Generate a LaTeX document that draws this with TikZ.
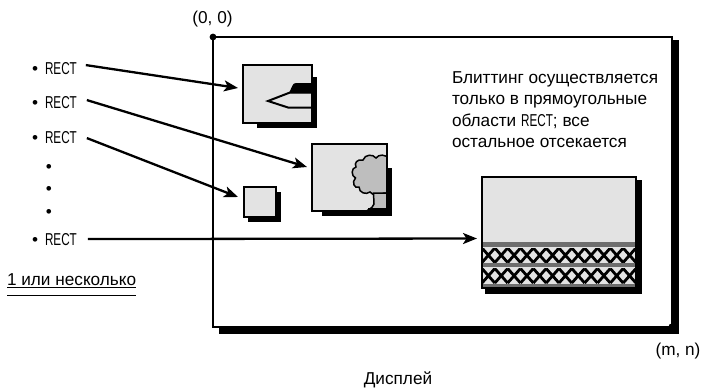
\documentclass[tikz,border=0pt]{standalone}
\usepackage{fontspec}
\setmainfont{Liberation Sans}
\newfontfamily\condfont[FakeStretch=0.68]{Liberation Sans}
\usetikzlibrary{arrows.meta,calc}

\definecolor{boxgray}{RGB}{227,227,227}
\definecolor{treegray}{RGB}{190,190,190}
\definecolor{bandgray}{RGB}{110,110,110}

\tikzset{
  lbl/.style={font=\fontsize{17.2}{21.2}\selectfont, inner sep=0pt, outer sep=0pt},
  rectlbl/.style={lbl, anchor=base west},
  frame/.style={draw, line width=2.4pt, fill=white, inner sep=0pt, outer sep=0pt},
  winfill/.style={fill=boxgray, inner sep=0pt, outer sep=0pt},
  winedge/.style={draw, line width=2.1pt},
  castshadow/.style={fill=black},
  ptr/.style={line width=2.3pt, -{Stealth[length=14pt,width=11pt,inset=3.5pt]}},
}

\begin{document}
\begin{tikzpicture}[x=1pt,y=-1pt]
\useasboundingbox (0,0) rectangle (704,391);

% display frame with its drop shadow
\fill[castshadow] (219,40) rectangle (679,334);
\node[frame, minimum width=459pt, minimum height=290pt] (disp) at (442.5,182) {};
\fill (disp.north west) circle (3.4);
\fill (disp.south east) circle (3.6);
\node[lbl, anchor=base] (origin) at (212.5,23.5) {(0, 0)};
\node[lbl, anchor=base] (corner) at (678,355) {(m, n)};
\node[lbl, anchor=base] (dispname) at (398,384) {Дисплей};

% window 1: pen
\fill[castshadow] (257,77) rectangle (317,128);
\node[winfill, minimum width=69pt, minimum height=58pt] (w1) at (277.5,94) {};
\fill (289,93) -- (292.5,85.5) .. controls (293.5,83.5) .. (297,83) -- (313,83) -- (313,93) -- cycle;
\draw[line width=2pt, line join=miter] (313,92.5) -- (290,92.5) -- (268,101) -- (288,107.5) -- (313,107.5);
\draw[winedge] (w1.north west) rectangle (w1.south east);

% window 2: tree
\fill[castshadow] (322,168) rectangle (392,216);
\node[winfill, minimum width=75pt, minimum height=67pt] (w2) at (349.5,177.5) {};
\begin{scope}
  \clip (w2.north west) rectangle (w2.south east);
  \draw[line width=1.5pt, fill=treegray]
    (390,159) .. controls (385,154) and (379,154) .. (376,158)
    .. controls (373,154) and (365,154) .. (363,160)
    .. controls (357,159) and (354,163) .. (356,167)
    .. controls (351,168) and (351,176) .. (355.5,178)
    .. controls (351.5,182) and (354,189) .. (359,187)
    .. controls (359,193) and (366,195) .. (370,192)
    .. controls (373,196) and (380,196) .. (384,193)
    -- (390,193) -- cycle;
  \draw[line width=1.5pt, fill=treegray]
    (373.5,193) -- (374,204) .. controls (373.5,207) and (371,208) .. (368,210)
    -- (390,210) -- (390,193) -- cycle;
  \fill (368,208) rectangle (390,212);
\end{scope}
\draw[winedge] (w2.north west) rectangle (w2.south east);

% window 3: small
\fill[castshadow] (248,192) rectangle (281,222);
\node[winfill, minimum width=32pt, minimum height=30pt] (w3) at (260,202) {};
\draw[winedge] (w3.north west) rectangle (w3.south east);

% window 4: large, with banded hatching
\fill[castshadow] (485,180) rectangle (642,294);
\node[winfill, minimum width=154pt, minimum height=111pt] (w4) at (559,232.5) {};
\begin{scope}
  \clip (w4.north west) rectangle (w4.south east);
  \fill[bandgray] (482,242) rectangle (636,246.5);
  \fill[bandgray] (482,263) rectangle (636,267);
  \fill[bandgray] (482,283.5) rectangle (636,288);
  \foreach \top in {248,268.5} {
    \begin{scope}
      \clip (482,\top) rectangle (636,\top+14.5);
      \foreach \k in {0,...,11} {
        \draw[line width=2.8pt]
          ({482+\k*12.83},\top) -- ({482+(\k+1)*12.83},\top+14.5)
          ({482+\k*12.83},\top+14.5) -- ({482+(\k+1)*12.83},\top);
      }
    \end{scope}
  }
\end{scope}
\draw[winedge] (w4.north west) rectangle (w4.south east);

% explanation
\node[lbl, anchor=north west, align=left] (note) at (452,71.8)
  {Блиттинг осуществляется\\только в прямоугольные\\области {\condfont RECT}; все\\остальное отсекается};

% list of rectangles
\node[rectlbl] (r1) at (32,74) {•\hspace{7pt}{\condfont RECT}};
\node[rectlbl] (r2) at (32,108) {•\hspace{7pt}{\condfont RECT}};
\node[rectlbl] (r3) at (32,143) {•\hspace{7pt}{\condfont RECT}};
\node[lbl, anchor=base] (d1) at (49,172) {•};
\node[lbl, anchor=base] (d2) at (49,194) {•};
\node[lbl, anchor=base] (d3) at (49,217) {•};
\node[rectlbl] (r4) at (32,245) {•\hspace{7pt}{\condfont RECT}};
\node[lbl, anchor=base west] (count) at (7,285) {1 или несколько};
\draw[line width=0.9pt] ([yshift=-2.5pt]count.base west) -- ([yshift=-2.5pt]count.base east);
\draw[line width=0.9pt] ([yshift=-10pt]count.base west) -- ([yshift=-10pt]count.base east);

% connectors
\draw[ptr] ([xshift=9pt,yshift=3pt]r1.east) -- ([xshift=-5pt,yshift=6pt]w1.west);
\draw[ptr] ([xshift=10pt,yshift=2pt]r2.east) -- ([xshift=-5pt,yshift=10.5pt]w2.west);
\draw[ptr] ([xshift=10pt,yshift=-1pt]r3.east) -- ([xshift=-6pt,yshift=5pt]w3.west);
\draw[ptr] ([xshift=11pt]r4.east) -- ([xshift=-5pt,yshift=-6pt]w4.west);
\end{tikzpicture}
\end{document}
